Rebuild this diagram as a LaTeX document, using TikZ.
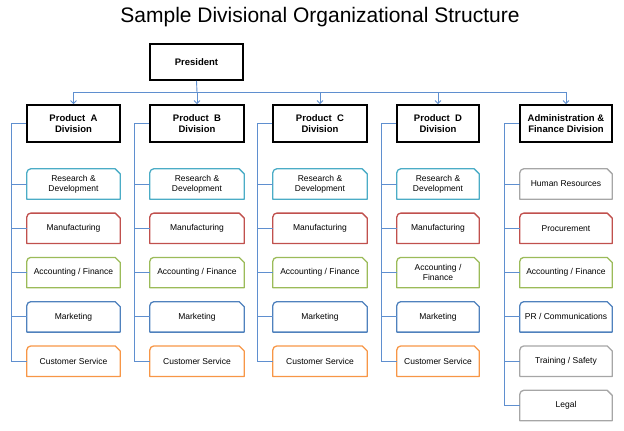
\documentclass[tikz,border=0pt]{standalone}
\usepackage{fontspec}
\setmainfont{Liberation Sans}
\usetikzlibrary{arrows.meta,calc}
\definecolor{cR}{HTML}{4BACC6}
\definecolor{cM}{HTML}{C0504D}
\definecolor{cA}{HTML}{9BBB59}
\definecolor{cK}{HTML}{4F81BD}
\definecolor{cS}{HTML}{F79646}
\definecolor{cG}{HTML}{A6A6A6}
\definecolor{lnk}{HTML}{5F8FCF}
\tikzset{
  topbox/.style={draw=black, line width=1.6pt, font=\fontsize{9.5}{11.5}\selectfont\bfseries, align=center, inner sep=1pt},
  sub/.style={minimum height=30pt, font=\fontsize{8.5}{10}\selectfont, align=center, inner sep=1pt,
    append after command={\pgfextra{\draw[draw=#1, line width=1.3pt, line join=round]
      (\tikzlastnode.south west) -- ([yshift=-4pt]\tikzlastnode.north west)
      arc[start angle=180, end angle=90, radius=4pt]
      -- ([xshift=-5pt]\tikzlastnode.north east) -- ([yshift=-5pt]\tikzlastnode.north east)
      -- (\tikzlastnode.south east) -- cycle;}}},
  link/.style={draw=lnk, line width=0.9pt},
  arr/.style={link, -{Straight Barb[length=3pt,width=6pt]}}
}
\begin{document}
\begin{tikzpicture}[x=1pt, y=1pt]
\useasboundingbox (0,0) rectangle (624,-431);
\node (T) at (320,-17) {\fontsize{21}{25}\selectfont Sample Divisional Organizational Structure};
\node[topbox, minimum width=93pt, minimum height=36pt] (P) at (196.5,-62) {President};
\node[topbox, minimum width=93pt, minimum height=37pt] (A) at (73.5,-123.5) {Product\ \ A\\Division};
\node[topbox, minimum width=94pt, minimum height=37pt] (B) at (197,-123.5) {Product\ \ B\\Division};
\node[topbox, minimum width=94pt, minimum height=37pt] (C) at (320,-123.5) {Product\ \ C\\Division};
\node[topbox, minimum width=82pt, minimum height=37pt] (D) at (438,-123.5) {Product\ \ D\\Division};
\node[topbox, minimum width=92pt, minimum height=37pt] (E) at (566,-123.5) {Administration \&\\Finance Division};
% bus
\draw[link] ([yshift=12pt]A.north) -- ([yshift=12pt]E.north);
\draw[link] (P.south) -- ([yshift=12pt]B.north);
\foreach \d in {A,B,C,D,E} {\draw[arr] ([yshift=12pt]\d.north) -- (\d.north);}
% product columns
\foreach \c/\x/\w/\acc in {A/73.5/93/{Accounting / Finance}, B/197/94/{Accounting / Finance}, C/320/94/{Accounting / Finance}, D/438/82/{Accounting /\\Finance}} {
  \node[sub=cR, minimum width=\w pt] (\c1) at (\x,-184) {Research \&\\Development};
  \node[sub=cM, minimum width=\w pt] (\c2) at (\x,-228.3) {Manufacturing};
  \node[sub=cA, minimum width=\w pt] (\c3) at (\x,-272.6) {\acc};
  \node[sub=cK, minimum width=\w pt] (\c4) at (\x,-316.9) {Marketing};
  \node[sub=cS, minimum width=\w pt] (\c5) at (\x,-361.2) {Customer Service};
  \draw[link] (\c.west) -- ([xshift=-15pt]\c.west) |- (\c5.west);
  \foreach \k in {1,2,3,4} {\draw[link] (\c\k.west) -- ([xshift=-15pt]\c\k.west);}
}
% admin column
\node[sub=cG, minimum width=92pt] (E1) at (566,-184) {Human Resources};
\node[sub=cM, minimum width=92pt] (E2) at (566,-228.3) {Procurement};
\node[sub=cA, minimum width=92pt] (E3) at (566,-272.6) {Accounting / Finance};
\node[sub=cK, minimum width=92pt] (E4) at (566,-316.9) {PR / Communications};
\node[sub=cG, minimum width=92pt] (E5) at (566,-361.2) {Training / Safety};
\node[sub=cG, minimum width=92pt] (E6) at (566,-405.5) {Legal};
\draw[link] (E.west) -- ([xshift=-15pt]E.west) |- (E6.west);
\foreach \k in {1,2,3,4,5} {\draw[link] (E\k.west) -- ([xshift=-15pt]E\k.west);}
\end{tikzpicture}
\end{document}
